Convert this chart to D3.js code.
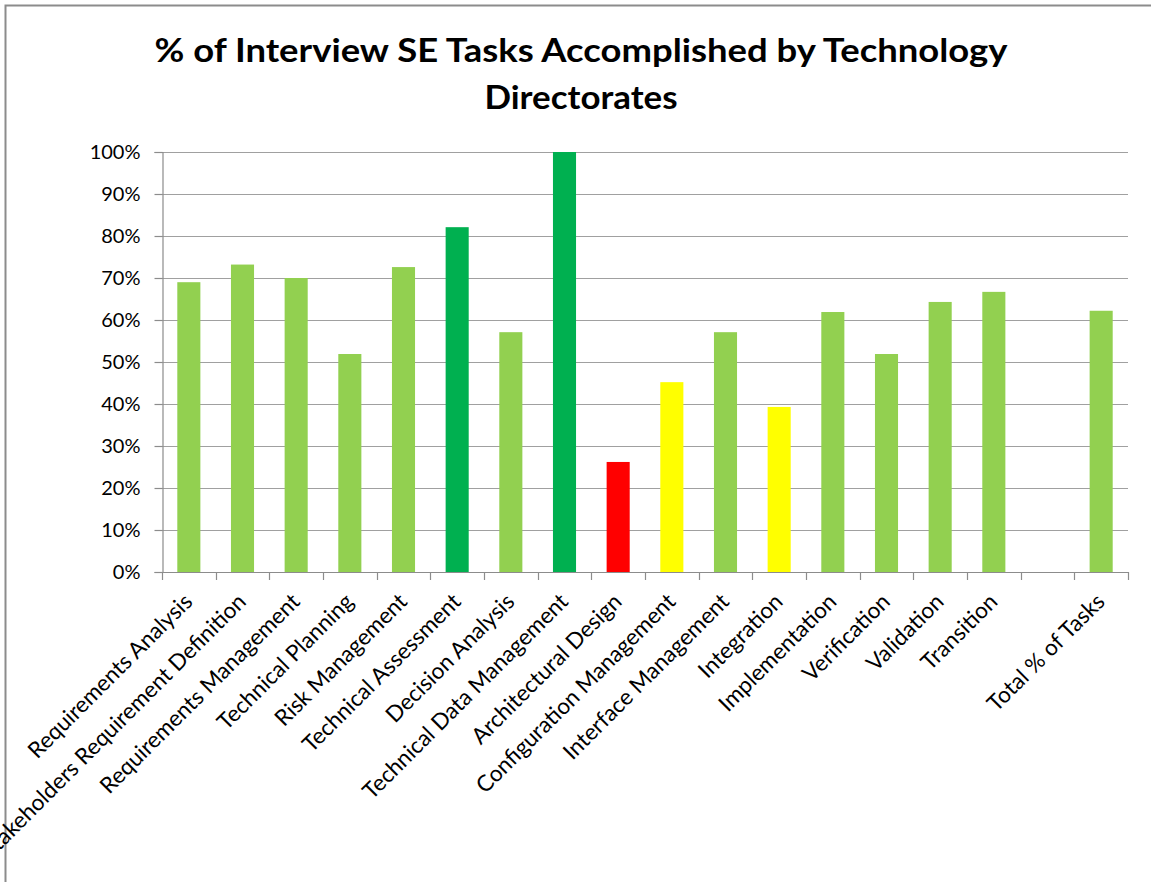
<!DOCTYPE html>
<html>
<head>
<meta charset="utf-8">
<script src="https://cdn.jsdelivr.net/npm/d3@7"></script>
<style>
  html, body { margin: 0; padding: 0; background: #fff; }
  svg { display: block; }
  text { font-family: Lato, "Open Sans", sans-serif; fill: #000; }
</style>
</head>
<body>
<div id="chart"></div>
<script>
// task names along the x axis ("" is the empty gap before the total)
const categories = [
    "Requirements Analysis", "Stakeholders Requirement Definition", "Requirements Management",
    "Technical Planning", "Risk Management", "Technical Assessment", "Decision Analysis",
    "Technical Data Management", "Architectural Design", "Configuration Management",
    "Interface Management", "Integration", "Implementation", "Verification", "Validation",
    "Transition", "", "Total % of Tasks"
];
// % of tasks accomplished
const values = [69, 73.2, 70, 51.9, 72.6, 82.1, 57.1, 100, 26.2, 45.2, 57.1, 39.3, 61.9, 51.9, 64.3, 66.7, null, 62.2];
// rating of each bar
const ratings = ["good", "good", "good", "good", "good", "high", "good", "high", "low", "medium",
    "good", "medium", "good", "good", "good", "good", null, "good"];
const yTicks = [0, 10, 20, 30, 40, 50, 60, 70, 80, 90, 100];
const titleLines = ["% of Interview SE Tasks Accomplished by Technology", "Directorates"];

const width = 1151, height = 882;
const margin = {top: 152, right: 23, bottom: 310, left: 162};

const svg = d3.select("#chart").append("svg")
    .attr("width", width)
    .attr("height", height);

// outer chart frame
svg.append("rect")
    .attr("x", 5.5).attr("y", 5.5)
    .attr("width", width + 20).attr("height", height + 20)
    .attr("fill", "none")
    .attr("stroke", "#8c8c8c")
    .attr("stroke-width", 2);

// title widths
const titleWidths = [853, 193];
svg.selectAll(".title")
    .data(titleLines)
    .join("text")
    .attr("class", "title")
    .attr("x", 581)
    .attr("y", (d, i) => 62 + i * 47)
    .attr("text-anchor", "middle")
    .attr("font-size", "33px")
    .attr("font-weight", "bold")
    .attr("textLength", (d, i) => titleWidths[i])
    .attr("lengthAdjust", "spacingAndGlyphs")
    .text(d => d);

const x = d3.scaleBand()
    .domain(d3.range(categories.length))
    .range([margin.left, width - margin.right])
    .paddingInner(0.57)
    .paddingOuter(0.285);

const y = d3.scaleLinear()
    .domain([0, 100])
    .range([height - margin.bottom, margin.top]);

const colorScale = d3.scaleOrdinal()
    .domain(["high", "good", "medium", "low"])
    .range(["#00b050", "#92d050", "#ffff00", "#ff0000"]);

// gridlines
svg.append("g")
    .selectAll("line")
    .data(yTicks)
    .join("line")
    .attr("x1", margin.left)
    .attr("x2", width - margin.right)
    .attr("y1", d => Math.round(y(d)) + 0.5)
    .attr("y2", d => Math.round(y(d)) + 0.5)
    .attr("stroke", "#a0a0a0")
    .attr("stroke-width", 1.2);

// y axis
const yAxis = svg.append("g")
    .attr("transform", `translate(${margin.left + 0.5},0)`)
    .call(d3.axisLeft(y).tickValues(yTicks).tickFormat(d => d + "%").tickSize(8).tickPadding(14));
yAxis.selectAll("path, line").attr("stroke", "#8c8c8c").attr("stroke-width", 1.2);
yAxis.selectAll("text").attr("font-size", "20px").attr("font-family", "Lato, sans-serif");

// bars
svg.append("g")
    .selectAll("rect")
    .data(values.map((v, i) => ({i, v, r: ratings[i]})).filter(d => d.v !== null))
    .join("rect")
    .attr("x", d => x(d.i))
    .attr("width", x.bandwidth())
    .attr("y", d => y(d.v))
    .attr("height", d => y(0) - y(d.v))
    .attr("fill", d => colorScale(d.r));

// x axis with ticks between categories
const boundaries = d3.range(categories.length + 1).map(i => margin.left + i * (width - margin.left - margin.right) / categories.length);
const xAxis = svg.append("g");
xAxis.append("line")
    .attr("x1", margin.left).attr("x2", width - margin.right)
    .attr("y1", y(0) + 0.5).attr("y2", y(0) + 0.5)
    .attr("stroke", "#8c8c8c").attr("stroke-width", 1.2);
xAxis.selectAll(".xtick")
    .data(boundaries)
    .join("line")
    .attr("class", "xtick")
    .attr("x1", d => Math.round(d) + 0.5).attr("x2", d => Math.round(d) + 0.5)
    .attr("y1", y(0)).attr("y2", y(0) + 8)
    .attr("stroke", "#8c8c8c").attr("stroke-width", 1.2);

xAxis.selectAll(".xlabel")
    .data(categories)
    .join("text")
    .attr("class", "xlabel")
    .attr("text-anchor", "end")
    .attr("font-size", "22.5px")
    .attr("transform", (d, i) => `translate(${x(i) + x.bandwidth() / 2 + 5},${y(0) + 31}) rotate(-45)`)
    .text(d => d);
</script>
</body>
</html>
